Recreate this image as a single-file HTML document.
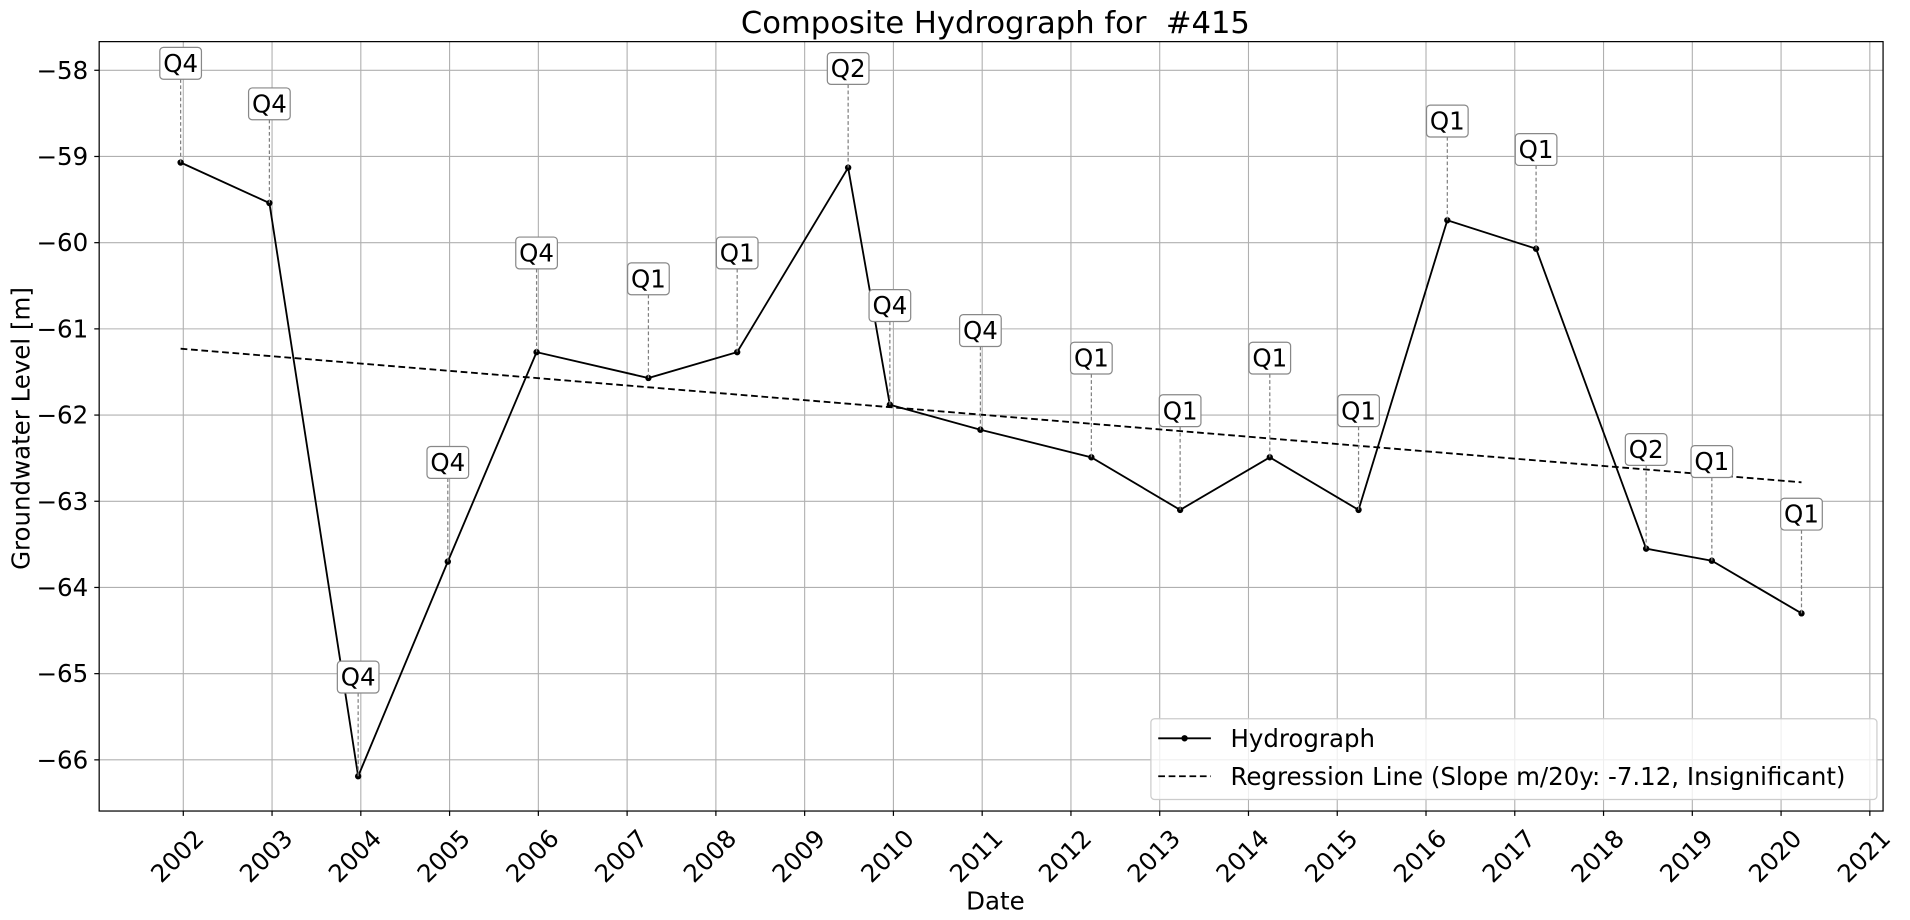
<!DOCTYPE html>
<html><head><meta charset="utf-8"><style>
html,body{margin:0;padding:0;background:#fff;}
svg{display:block;font-family:"DejaVu Sans","Liberation Sans",sans-serif;}
</style></head><body>
<svg id="chart" width="1910" height="920" viewBox="0 0 1560 751.4" preserveAspectRatio="none" xmlns="http://www.w3.org/2000/svg">
<g id="grid"></g>
<g id="reg"></g>
<g id="series"></g>
<g id="labels"></g>
<rect x="81" y="34" width="1457" height="628.4" fill="none" stroke="#000" stroke-width="1"/>
<g id="axes"></g>
<text x="813" y="27" font-size="25" text-anchor="middle" style="white-space:pre">Composite Hydrograph for  #415</text>
<text transform="translate(24,350) rotate(-90)" font-size="20" text-anchor="middle">Groundwater Level [m]</text>
<text x="813" y="743" font-size="20" text-anchor="middle">Date</text>
<g>
<rect x="940" y="587" width="593" height="66" rx="3" fill="#fff" fill-opacity="0.8" stroke="#ccc"/>
<g>
<line x1="946" y1="603" x2="989" y2="603" stroke="#000" stroke-width="1.5"/>
<circle cx="967.5" cy="603" r="2.6" fill="#000"/>
<text x="1005" y="610" font-size="20">Hydrograph</text>
</g>
<g>
<line x1="946" y1="634" x2="989" y2="634" stroke="#000" stroke-width="1.5" stroke-dasharray="5.5,3"/>
<text x="1005" y="641" font-size="20">Regression Line (Slope m/20y: -7.12, Insignificant)</text>
</g>
</g>
</svg>
<script>
const dates = [2001.97, 2002.97, 2003.97, 2004.98, 2005.98, 2007.24, 2008.24, 2009.49, 2009.96, 2010.98, 2012.23, 2013.23, 2014.24, 2015.24, 2016.24, 2017.24, 2018.48, 2019.22, 2020.23];
const levels = [-59.07, -59.54, -66.19, -63.7, -61.27, -61.57, -61.27, -59.13, -61.88, -62.17, -62.49, -63.1, -62.49, -63.1, -59.74, -60.07, -63.55, -63.69, -64.30];
const quarters = ["Q4","Q4","Q4","Q4","Q4","Q1","Q1","Q2","Q4","Q4","Q1","Q1","Q1","Q1","Q1","Q1","Q2","Q1","Q1"];
const regX = [2001.97, 2020.23];
const regY = [-61.23, -62.78];
const yTicks = [-58, -59, -60, -61, -62, -63, -64, -65, -66];
const xTicks = [2002,2003,2004,2005,2006,2007,2008,2009,2010,2011,2012,2013,2014,2015,2016,2017,2018,2019,2020,2021];

const NS = "http://www.w3.org/2000/svg";
const L = 81, R = 1538, T = 34, B = 662.4;
function xs(v){ return 149.7 + (v - 2002) * 72.5; }
function ys(v){ return 57.4 + (-58 - v) * 70.4; }
function mk(tag, attrs, parent){
  const e = document.createElementNS(NS, tag);
  for (const k in attrs) e.setAttribute(k, attrs[k]);
  parent.appendChild(e); return e;
}
const grid = document.getElementById('grid');
const axes = document.getElementById('axes');
yTicks.forEach(t => {
  const y = ys(t);
  const gl = mk('line', {x1:L, x2:R, y1:y, y2:y, stroke:'#b0b0b0', 'stroke-width':0.9}, grid);
  
  
  mk('line', {x1:L-4, x2:L, y1:y, y2:y, stroke:'#000'}, axes);
  const tx = mk('text', {x:72, y:y+7, 'font-size':20, 'text-anchor':'end'}, axes);
  tx.textContent = '\u2212' + Math.abs(t);
  
  
});
xTicks.forEach(t => {
  const x = xs(t);
  const gl = mk('line', {x1:x, x2:x, y1:T, y2:B, stroke:'#b0b0b0', 'stroke-width':0.9}, grid);
  
  
  mk('line', {x1:x, x2:x, y1:B, y2:B+4, stroke:'#000'}, axes);
  const tx = mk('text', {transform:'translate(' + (x+18) + ',' + 686 + ') rotate(-45)', 'font-size':20, 'text-anchor':'end'}, axes);
  tx.textContent = t;
  
  
});
const reg = document.getElementById('reg');
const rl = mk('line', {x1:xs(regX[0]), y1:ys(regY[0]), x2:xs(regX[1]), y2:ys(regY[1]), stroke:'#000', 'stroke-width':1.5, 'stroke-dasharray':'5.5,3'}, reg);


const series = document.getElementById('series');
const pts = dates.map((d,i) => xs(d) + ',' + ys(levels[i])).join(' ');
const pl = mk('polyline', {points:pts, fill:'none', stroke:'#000', 'stroke-width':1.5}, series);


const labels = document.getElementById('labels');
dates.forEach((d,i) => {
  const x = xs(d), y = ys(levels[i]);
  const c = mk('circle', {cx:x, cy:y, r:2.6, fill:'#000'}, series);
  
  
  const ly = y - 81;
  mk('line', {x1:x, x2:x, y1:ly+13, y2:y, stroke:'#808080', 'stroke-width':1, 'stroke-dasharray':'3,2'}, labels);
  const g = mk('g', {}, labels);
  
  
  mk('rect', {x:x-17, y:ly-13, width:34, height:26, rx:3, fill:'#fff', stroke:'#888', 'stroke-width':1}, g);
  const t = mk('text', {x:x, y:ly+7, 'font-size':20, 'text-anchor':'middle'}, g);
  t.textContent = quarters[i];
});
</script>
</body></html>
